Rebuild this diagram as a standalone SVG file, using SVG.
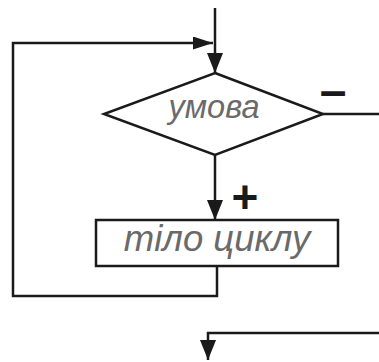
<svg xmlns="http://www.w3.org/2000/svg" width="379" height="362" viewBox="0 0 379 362">
<style>
.ln{fill:none;stroke:#1a1a1a;stroke-width:2.5}
.shape{fill:#fff;stroke:#1a1a1a;stroke-width:2.5}
.lbl{font-family:"Liberation Sans",Arial,sans-serif;font-style:italic;fill:#6a6a6a;text-anchor:middle}
.sign{font-family:"Liberation Sans",Arial,sans-serif;font-weight:bold;fill:#1a1a1a;text-anchor:middle}
</style>
<defs>
<marker id="ah" markerWidth="20" markerHeight="16" refX="20" refY="8" orient="auto" markerUnits="userSpaceOnUse">
<path d="M0,0 L20,8 L0,16 Z" fill="#1a1a1a"/>
</marker>
<marker id="ahs" markerWidth="20" markerHeight="13" refX="20" refY="6.5" orient="auto" markerUnits="userSpaceOnUse">
<path d="M0,0 L20,6.5 L0,13 Z" fill="#1a1a1a"/>
</marker>
</defs>
<rect width="379" height="362" fill="#fff"/>
<g id="connectors">
<line class="ln" x1="215" y1="8" x2="215" y2="73" marker-end="url(#ah)"/>
<polyline class="ln" points="217,266 217,296 13,296 13,43 213,43" marker-end="url(#ahs)"/>
<line class="ln" x1="215" y1="155" x2="215" y2="220" marker-end="url(#ah)"/>
<line class="ln" x1="323" y1="114" x2="379" y2="114"/>
<polyline class="ln" points="379,333 208,333 208,360" marker-end="url(#ah)"/>
<text class="sign" x="333" y="107" font-size="48">–</text>
<text class="sign" x="245" y="213" font-size="46">+</text>
</g>
<g id="condition">
<polygon class="shape" points="215,73 323,114 215,155 104,114"/>
<text class="lbl" x="214" y="118" font-size="32.5">умова</text>
</g>
<g id="body">
<rect class="shape" x="96" y="220" width="242" height="46"/>
<text class="lbl" x="217" y="251" font-size="36.5">тіло циклу</text>
</g>
</svg>
